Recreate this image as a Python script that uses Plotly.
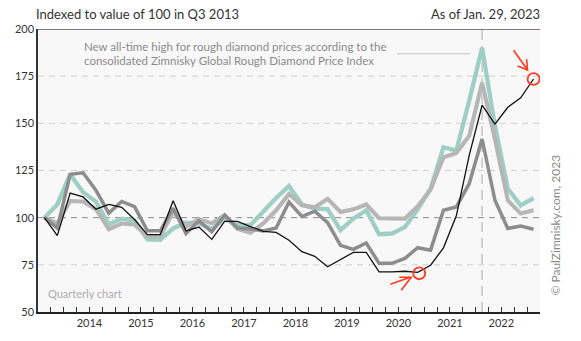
import plotly.graph_objects as go

# Quarterly index values, Q3 2013 = 100, from Q3 2013 through Q1 2023
first_year, first_quarter = 2013, 3

series_teal = [100, 107, 123, 113.5, 108.5, 96.5, 99.5, 98.5, 88.5, 88.3,
               94.3, 97.4, 97, 94, 99.5, 96, 96, 103.5, 110.4, 116.8,
               107, 104.8, 104.5, 93.4, 99.5, 103.9, 91.2, 91.6, 95, 104.5,
               115.3, 137.3, 135.5, 162, 190, 148.7, 115.3, 106.5, 110.4]

series_light_gray = [100, 97, 108.8, 108.6, 104.5, 93.9, 96.9, 96.4, 90, 90,
                     103, 95.2, 99.3, 97, 101.3, 94, 92, 97, 103.9, 112.5,
                     106.5, 105.5, 110, 103, 104.4, 107, 99.7, 99.5, 99.5, 106,
                     115, 132, 134.3, 143.4, 171.5, 141.7, 109.2, 102.2, 103.9]

series_gray = [100, 94.5, 123, 123.8, 114.5, 102.4, 108.6, 105.8, 93, 93,
               105, 91.6, 98.3, 92.5, 101.3, 94.5, 94, 92.9, 94.5, 108.3,
               100.6, 103.4, 97.4, 85.3, 83.2, 86.6, 75.8, 75.8, 78.4, 84.1,
               82.8, 103.9, 105.7, 118, 141.7, 109.2, 94.3, 95.6, 93.9]

series_black = [100, 90.5, 113, 111, 104.5, 107, 105.5, 99, 91, 91,
                109, 93, 95, 88.5, 98, 98, 95.3, 92.7, 92.2, 88,
                82, 79.5, 74, 77.8, 81.6, 81.6, 71.3, 71.3, 71.6, 71,
                74.8, 84, 101, 133, 159.6, 149.6, 158.5, 163.5, 173.5]

year_labels = ["2014", "2015", "2016", "2017", "2018", "2019", "2020", "2021", "2022"]
y_ticks = [50, 75, 100, 125, 150, 175, 200]

# quarter positions on a decimal-year axis (plotted at mid-quarter)
n = len(series_black)
quarters = []
for i in range(n):
    k = (first_quarter - 1) + i
    quarters.append((first_year + k // 4, k % 4 + 1))
xs = [y + (q - 1) / 4 + 0.125 for y, q in quarters]

W, H = 581, 341
ML, MR, MT, MB = 38, 41, 29, 27
X0, X1 = first_year + (first_quarter - 1) / 4, xs[-1] + 0.125
Y0, Y1 = 50, 200
PW, PH = W - ML - MR, H - MT - MB
SX = (X1 - X0) / PW   # data units per pixel
SY = (Y1 - Y0) / PH

FONT = "Lato, 'Open Sans', sans-serif"

fig = go.Figure()
styles = [
    (series_teal, "#9ecec5", 4.3),
    (series_light_gray, "#b6b6b6", 4.1),
    (series_gray, "#8d8d8d", 3.5),
    (series_black, "#111111", 1.3),
]
for vals, color, width in styles:
    fig.add_trace(go.Scatter(x=xs, y=vals, mode="lines",
                             line=dict(color=color, width=width),
                             hoverinfo="skip", showlegend=False))

shapes = []
# horizontal dashed gridlines
for v in y_ticks[1:-1]:
    shapes.append(dict(type="line", xref="x", yref="y", x0=X0, x1=X1, y0=v, y1=v,
                       line=dict(color="#8a8a8a" if v == 100 else "#cfcfcf",
                                 width=1, dash="6px,5px"),
                       layer="below"))
# top border
shapes.append(dict(type="line", xref="x", yref="y", x0=X0, x1=X1, y0=Y1, y1=Y1,
                   line=dict(color="#555555", width=1.5)))
# vertical marker at the peak quarter
peak_i = series_teal.index(max(series_teal))
px = xs[peak_i]
shapes.append(dict(type="line", xref="x", yref="y", x0=px, x1=px, y0=Y0, y1=Y1,
                   line=dict(color="#c4c4c4", width=1.5, dash="10px,6px"),
                   layer="below"))
# leader line from the note towards the marker
note_y = Y1 - 25 * SY
shapes.append(dict(type="line", xref="x", yref="y", x0=px - 85 * SX, x1=px - 12 * SX,
                   y0=note_y, y1=note_y, line=dict(color="#c4c4c4", width=1)))

RED = "#ff3b1f"


def circle(cx, cy, r):
    return dict(type="circle", xref="x", yref="y",
                x0=cx - r * SX, x1=cx + r * SX, y0=cy - r * SY, y1=cy + r * SY,
                line=dict(color=RED, width=1.8))


def stroke(cx, cy, pts):
    # offsets in pixels: +dx right, +dy down
    d = "M" + " L".join(f"{cx + dx * SX},{cy - dy * SY}" for dx, dy in pts)
    return dict(type="path", xref="x", yref="y", path=d,
                line=dict(color=RED, width=1.6))


# latest reading
cx, cy = xs[-1], series_black[-1]
shapes.append(circle(cx, cy, 6))
shapes.append(stroke(cx, cy, [(-20, -29), (-6, -9)]))
shapes.append(stroke(cx, cy, [(-16, -13), (-6, -9), (-7, -20)]))

# trough reading
low_i = 29
bx, by = xs[low_i] + 1.5 * SX, series_black[low_i] - 0.9 * SY
shapes.append(circle(bx, by, 6))
shapes.append(stroke(bx, by, [(-29, 11), (-9, 4)]))
shapes.append(stroke(bx, by, [(-20, 4), (-8, 4), (-18, 17)]))

annotations = [
    dict(text="Indexed to value of 100 in Q3 2013", xref="paper", yref="paper",
         x=-4 / PW, y=1 + 15 / PH, xanchor="left", yanchor="middle", showarrow=False,
         font=dict(family=FONT, size=13, color="#333333")),
    dict(text="As of Jan. 29, 2023", xref="paper", yref="paper",
         x=1 + 2 / PW, y=1 + 15 / PH, xanchor="right", yanchor="middle", showarrow=False,
         font=dict(family=FONT, size=13, color="#333333")),
    dict(text="New all-time high for rough diamond prices according to the",
         xref="paper", yref="paper", x=44 / PW, y=1 - 17.5 / PH,
         xanchor="left", yanchor="middle", showarrow=False,
         font=dict(family=FONT, size=11.5, color="#8a8a8a")),
    dict(text="consolidated Zimnisky Global Rough Diamond Price Index",
         xref="paper", yref="paper", x=44 / PW, y=1 - 32 / PH,
         xanchor="left", yanchor="middle", showarrow=False,
         font=dict(family=FONT, size=11.5, color="#8a8a8a")),
    dict(text="Quarterly chart", xref="paper", yref="paper",
         x=8 / PW, y=19 / PH, xanchor="left", yanchor="middle", showarrow=False,
         font=dict(family=FONT, size=11, color="#ababab")),
    dict(text="© PaulZimnisky.com, 2023", xref="paper", yref="paper",
         x=1 + 16 / PW, y=87 / PH, xanchor="center", yanchor="middle",
         textangle=-90, showarrow=False,
         font=dict(family=FONT, size=12, color="#8a8a8a")),
]

# quarter-boundary ticks, with year labels at mid-year
tick_vals, tick_text = [], []
t = X0
label_map = {float(lbl) + 0.5: lbl for lbl in year_labels}
while t <= X1 + 1e-9:
    tick_vals.append(t)
    tick_text.append(label_map.get(round(t, 3), ""))
    t += 0.25

fig.update_layout(
    width=W, height=H,
    margin=dict(l=ML, r=MR, t=MT, b=MB, pad=0),
    paper_bgcolor="white", plot_bgcolor="#f8f8f8",
    font=dict(family=FONT, size=11, color="#333333"),
    shapes=shapes, annotations=annotations,
    xaxis=dict(range=[X0, X1], showgrid=False, zeroline=False,
               showline=True, linecolor="#222222", linewidth=2,
               ticks="inside", ticklen=5, tickwidth=1, tickcolor="#333333",
               tickmode="array", tickvals=tick_vals, ticktext=tick_text,
               tickfont=dict(family=FONT, size=11, color="#333333")),
    yaxis=dict(range=[Y0, Y1], showgrid=False, zeroline=False,
               showline=True, linecolor="#333333", linewidth=1.5,
               tickmode="array", tickvals=y_ticks, ticks="",
               tickfont=dict(family=FONT, size=11, color="#333333")),
)

fig.write_html("out.html")
